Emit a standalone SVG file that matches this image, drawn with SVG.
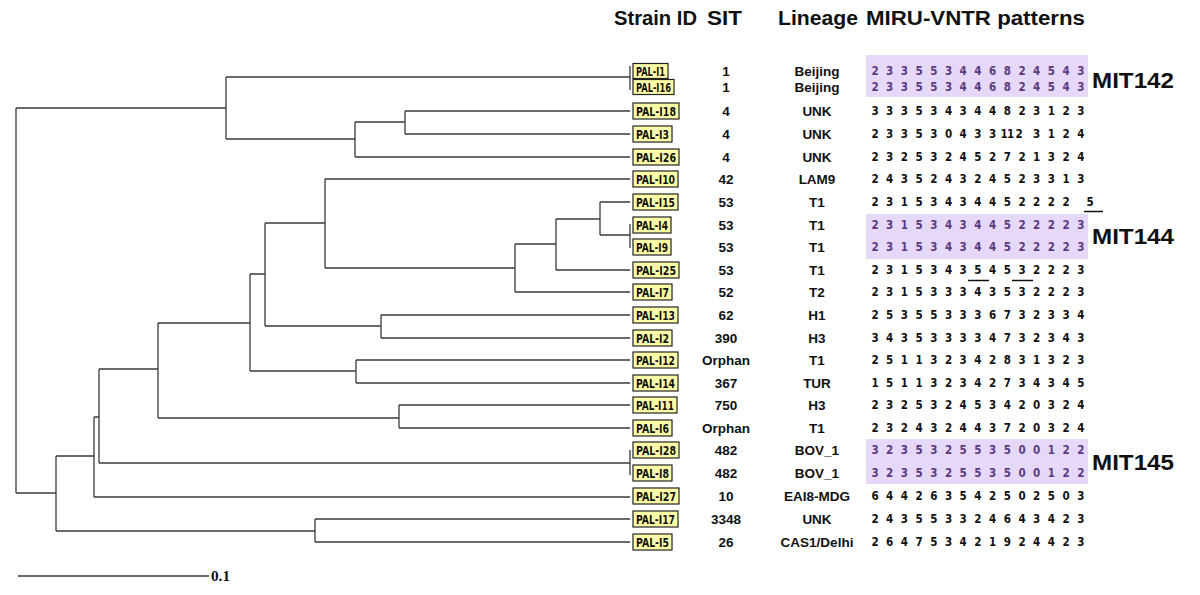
<svg xmlns="http://www.w3.org/2000/svg" width="1200" height="595" viewBox="0 0 1200 595">
<style>
.hdr{font-family:"Liberation Sans",Arial,sans-serif;font-weight:bold;font-size:20px;fill:#111}
.mit{font-family:"Liberation Sans",Arial,sans-serif;font-weight:bold;font-size:22px;fill:#111}
.box{fill:#ffffa8;stroke:#222;stroke-width:1.2}
.sid{font-family:"DejaVu Sans Condensed","DejaVu Sans",sans-serif;font-weight:bold;font-size:11.5px;fill:#111}
.col{font-family:"Liberation Sans",Arial,sans-serif;font-weight:bold;font-size:13.5px;fill:#111;text-anchor:middle}
.dg{font-family:"DejaVu Sans Condensed","DejaVu Sans",sans-serif;font-weight:bold;font-size:11.5px;fill:#111;text-anchor:middle}
.pu{fill:#5a3a80}
.hl{fill:#e6d8f8}
.tree{fill:none;stroke:#3a3a3a;stroke-width:1.3}
.ul{stroke:#111;stroke-width:1.5}
</style>
<rect width="1200" height="595" fill="#fff"/>
<g id="headers">
<text class="hdr" x="614" y="25" textLength="83" lengthAdjust="spacingAndGlyphs">Strain ID</text>
<text class="hdr" x="707" y="25" textLength="35" lengthAdjust="spacingAndGlyphs">SIT</text>
<text class="hdr" x="778" y="25" textLength="80" lengthAdjust="spacingAndGlyphs">Lineage</text>
<text class="hdr" x="866" y="25" textLength="219" lengthAdjust="spacingAndGlyphs">MIRU-VNTR patterns</text>
</g>
<g id="highlights">
<rect class="hl" x="866" y="55" width="222" height="42"/>
<rect class="hl" x="866" y="214" width="222" height="45"/>
<rect class="hl" x="866" y="439" width="222" height="45"/>
</g>
<g id="mit-labels">
<text class="mit" x="1092" y="88" textLength="82" lengthAdjust="spacingAndGlyphs">MIT142</text>
<text class="mit" x="1092" y="244" textLength="82" lengthAdjust="spacingAndGlyphs">MIT144</text>
<text class="mit" x="1092" y="470" textLength="82" lengthAdjust="spacingAndGlyphs">MIT145</text>
</g>
<g id="connectors">
<path class="tree" d="M16 108V493 M16 108H226 M226 77V139 M226 77H630 M630 66V90 M226 139H355 M355 122V157 M355 122H405 M405 111V134 M405 111H630 M405 134H630 M355 157H630 M16 493H56 M56 456V531 M56 531H315 M315 519V542 M315 519H630 M315 542H630 M56 456H94 M94 417V497 M94 497H630 M94 417H99 M99 369V463 M99 463H630 M630 450V475 M99 369H158 M158 323V418 M158 418H399 M399 405V428 M399 405H630 M399 428H630 M158 323H250 M250 274V371 M250 371H356 M356 360V383 M356 360H630 M356 383H630 M250 274H265 M265 223V326 M265 326H381 M381 315V338 M381 315H630 M381 338H630 M265 223H325 M325 179V268 M325 179H630 M325 268H515 M515 244V292 M515 292H630 M515 244H556 M556 219V270 M556 270H630 M556 219H600 M600 202V235 M600 202H630 M600 235H630 M630 224V248"/>
</g>
<g id="scale-bar">
<path class="tree" d="M18 576H209"/>
<text x="211" y="581" font-family="Liberation Serif,serif" font-size="14" font-weight="bold" fill="#111" textLength="19" lengthAdjust="spacingAndGlyphs">0.1</text>
</g>
<g id="PAL-I1"><rect class="box" x="633" y="63.5" width="35" height="15"/><text class="sid" x="636" y="75.5" textLength="29" lengthAdjust="spacingAndGlyphs">PAL-I1</text><text class="col" x="726" y="76">1</text><text class="col" x="817" y="76">Beijing</text><text class="dg pu" y="75" x="875 889.7 904.4 919.1 933.8 948.5 963.2 977.9 992.6 1007.3 1022 1036.7 1051.4 1066.1 1080.8">233553446824543</text></g>
<g id="PAL-I16"><rect class="box" x="633" y="79.5" width="41" height="15"/><text class="sid" x="636" y="91.5" textLength="35" lengthAdjust="spacingAndGlyphs">PAL-I16</text><text class="col" x="726" y="92">1</text><text class="col" x="817" y="92">Beijing</text><text class="dg pu" y="91" x="875 889.7 904.4 919.1 933.8 948.5 963.2 977.9 992.6 1007.3 1022 1036.7 1051.4 1066.1 1080.8">233553446824543</text></g>
<g id="PAL-I18"><rect class="box" x="633" y="103" width="46" height="16"/><text class="sid" x="636" y="115.5" textLength="40" lengthAdjust="spacingAndGlyphs">PAL-I18</text><text class="col" x="726" y="116">4</text><text class="col" x="817" y="116">UNK</text><text class="dg" y="115" x="875 889.7 904.4 919.1 933.8 948.5 963.2 977.9 992.6 1007.3 1022 1036.7 1051.4 1066.1 1080.8">333534344823123</text></g>
<g id="PAL-I3"><rect class="box" x="633" y="126" width="39" height="16"/><text class="sid" x="636" y="138.5" textLength="33" lengthAdjust="spacingAndGlyphs">PAL-I3</text><text class="col" x="726" y="139">4</text><text class="col" x="817" y="139">UNK</text><text class="dg" y="138" x="875 889.7 904.4 919.1 933.8 948.5 963.2 977.9 992.6 1004 1010.5 1019 1036.7 1051.4 1066.1 1080.8">2335304331123124</text></g>
<g id="PAL-I26"><rect class="box" x="633" y="149" width="46" height="16"/><text class="sid" x="636" y="161.5" textLength="40" lengthAdjust="spacingAndGlyphs">PAL-I26</text><text class="col" x="726" y="162">4</text><text class="col" x="817" y="162">UNK</text><text class="dg" y="161" x="875 889.7 904.4 919.1 933.8 948.5 963.2 977.9 992.6 1007.3 1022 1036.7 1051.4 1066.1 1080.8">232532452721324</text></g>
<g id="PAL-I10"><rect class="box" x="633" y="171" width="45" height="16"/><text class="sid" x="636" y="183.5" textLength="39" lengthAdjust="spacingAndGlyphs">PAL-I10</text><text class="col" x="726" y="184">42</text><text class="col" x="817" y="184">LAM9</text><text class="dg" y="183" x="875 889.7 904.4 919.1 933.8 948.5 963.2 977.9 992.6 1007.3 1022 1036.7 1051.4 1066.1 1080.8">243524324523313</text></g>
<g id="PAL-I15"><rect class="box" x="633" y="194" width="45" height="16"/><text class="sid" x="636" y="206.5" textLength="39" lengthAdjust="spacingAndGlyphs">PAL-I15</text><text class="col" x="726" y="207">53</text><text class="col" x="817" y="207">T1</text><text class="dg" y="206" x="875 889.7 904.4 919.1 933.8 948.5 963.2 977.9 992.6 1007.3 1022 1036.7 1051.4 1066.1 1090">231534344522225</text><line class="ul" x1="1084" y1="211.5" x2="1103" y2="211.5"/></g>
<g id="PAL-I4"><rect class="box" x="633" y="217" width="38" height="16"/><text class="sid" x="636" y="229.5" textLength="32" lengthAdjust="spacingAndGlyphs">PAL-I4</text><text class="col" x="726" y="230">53</text><text class="col" x="817" y="230">T1</text><text class="dg pu" y="229" x="875 889.7 904.4 919.1 933.8 948.5 963.2 977.9 992.6 1007.3 1022 1036.7 1051.4 1066.1 1080.8">231534344522223</text></g>
<g id="PAL-I9"><rect class="box" x="633" y="239" width="38" height="16"/><text class="sid" x="636" y="251.5" textLength="32" lengthAdjust="spacingAndGlyphs">PAL-I9</text><text class="col" x="726" y="252">53</text><text class="col" x="817" y="252">T1</text><text class="dg pu" y="251" x="875 889.7 904.4 919.1 933.8 948.5 963.2 977.9 992.6 1007.3 1022 1036.7 1051.4 1066.1 1080.8">231534344522223</text></g>
<g id="PAL-I25"><rect class="box" x="633" y="262" width="46" height="16"/><text class="sid" x="636" y="274.5" textLength="40" lengthAdjust="spacingAndGlyphs">PAL-I25</text><text class="col" x="726" y="275">53</text><text class="col" x="817" y="275">T1</text><text class="dg" y="274" x="875 889.7 904.4 919.1 933.8 948.5 963.2 977.9 992.6 1007.3 1022 1036.7 1051.4 1066.1 1080.8">231534354532223</text><line class="ul" x1="968" y1="280.5" x2="989" y2="280.5"/><line class="ul" x1="1012" y1="280.5" x2="1033" y2="280.5"/></g>
<g id="PAL-I7"><rect class="box" x="633" y="284" width="39" height="16"/><text class="sid" x="636" y="296.5" textLength="33" lengthAdjust="spacingAndGlyphs">PAL-I7</text><text class="col" x="726" y="297">52</text><text class="col" x="817" y="297">T2</text><text class="dg" y="296" x="875 889.7 904.4 919.1 933.8 948.5 963.2 977.9 992.6 1007.3 1022 1036.7 1051.4 1066.1 1080.8">231533343532223</text></g>
<g id="PAL-I13"><rect class="box" x="633" y="307" width="45" height="16"/><text class="sid" x="636" y="319.5" textLength="39" lengthAdjust="spacingAndGlyphs">PAL-I13</text><text class="col" x="726" y="320">62</text><text class="col" x="817" y="320">H1</text><text class="dg" y="319" x="875 889.7 904.4 919.1 933.8 948.5 963.2 977.9 992.6 1007.3 1022 1036.7 1051.4 1066.1 1080.8">253553336732334</text></g>
<g id="PAL-I2"><rect class="box" x="633" y="330" width="39" height="16"/><text class="sid" x="636" y="342.5" textLength="33" lengthAdjust="spacingAndGlyphs">PAL-I2</text><text class="col" x="726" y="343">390</text><text class="col" x="817" y="343">H3</text><text class="dg" y="342" x="875 889.7 904.4 919.1 933.8 948.5 963.2 977.9 992.6 1007.3 1022 1036.7 1051.4 1066.1 1080.8">343533334732343</text></g>
<g id="PAL-I12"><rect class="box" x="633" y="352" width="45" height="16"/><text class="sid" x="636" y="364.5" textLength="39" lengthAdjust="spacingAndGlyphs">PAL-I12</text><text class="col" x="726" y="365">Orphan</text><text class="col" x="817" y="365">T1</text><text class="dg" y="364" x="875 889.7 904.4 919.1 933.8 948.5 963.2 977.9 992.6 1007.3 1022 1036.7 1051.4 1066.1 1080.8">251132342831323</text></g>
<g id="PAL-I14"><rect class="box" x="633" y="375" width="45" height="16"/><text class="sid" x="636" y="387.5" textLength="39" lengthAdjust="spacingAndGlyphs">PAL-I14</text><text class="col" x="726" y="388">367</text><text class="col" x="817" y="388">TUR</text><text class="dg" y="387" x="875 889.7 904.4 919.1 933.8 948.5 963.2 977.9 992.6 1007.3 1022 1036.7 1051.4 1066.1 1080.8">151132342734345</text></g>
<g id="PAL-I11"><rect class="box" x="633" y="397" width="44" height="16"/><text class="sid" x="636" y="409.5" textLength="38" lengthAdjust="spacingAndGlyphs">PAL-I11</text><text class="col" x="726" y="410">750</text><text class="col" x="817" y="410">H3</text><text class="dg" y="409" x="875 889.7 904.4 919.1 933.8 948.5 963.2 977.9 992.6 1007.3 1022 1036.7 1051.4 1066.1 1080.8">232532453420324</text></g>
<g id="PAL-I6"><rect class="box" x="633" y="420" width="39" height="16"/><text class="sid" x="636" y="432.5" textLength="33" lengthAdjust="spacingAndGlyphs">PAL-I6</text><text class="col" x="726" y="433">Orphan</text><text class="col" x="817" y="433">T1</text><text class="dg" y="432" x="875 889.7 904.4 919.1 933.8 948.5 963.2 977.9 992.6 1007.3 1022 1036.7 1051.4 1066.1 1080.8">232432443720324</text></g>
<g id="PAL-I28"><rect class="box" x="633" y="442" width="46" height="16"/><text class="sid" x="636" y="454.5" textLength="40" lengthAdjust="spacingAndGlyphs">PAL-I28</text><text class="col" x="726" y="455">482</text><text class="col" x="817" y="455">BOV_1</text><text class="dg pu" y="454" x="875 889.7 904.4 919.1 933.8 948.5 963.2 977.9 992.6 1007.3 1022 1036.7 1051.4 1066.1 1080.8">323532553500122</text></g>
<g id="PAL-I8"><rect class="box" x="633" y="465" width="39" height="16"/><text class="sid" x="636" y="477.5" textLength="33" lengthAdjust="spacingAndGlyphs">PAL-I8</text><text class="col" x="726" y="478">482</text><text class="col" x="817" y="478">BOV_1</text><text class="dg pu" y="477" x="875 889.7 904.4 919.1 933.8 948.5 963.2 977.9 992.6 1007.3 1022 1036.7 1051.4 1066.1 1080.8">323532553500122</text></g>
<g id="PAL-I27"><rect class="box" x="633" y="488" width="46" height="16"/><text class="sid" x="636" y="500.5" textLength="40" lengthAdjust="spacingAndGlyphs">PAL-I27</text><text class="col" x="726" y="501">10</text><text class="col" x="817" y="501">EAI8-MDG</text><text class="dg" y="500" x="875 889.7 904.4 919.1 933.8 948.5 963.2 977.9 992.6 1007.3 1022 1036.7 1051.4 1066.1 1080.8">644263542502503</text></g>
<g id="PAL-I17"><rect class="box" x="633" y="511" width="45" height="16"/><text class="sid" x="636" y="523.5" textLength="39" lengthAdjust="spacingAndGlyphs">PAL-I17</text><text class="col" x="726" y="524">3348</text><text class="col" x="817" y="524">UNK</text><text class="dg" y="523" x="875 889.7 904.4 919.1 933.8 948.5 963.2 977.9 992.6 1007.3 1022 1036.7 1051.4 1066.1 1080.8">243553324643423</text></g>
<g id="PAL-I5"><rect class="box" x="633" y="534" width="39" height="16"/><text class="sid" x="636" y="546.5" textLength="33" lengthAdjust="spacingAndGlyphs">PAL-I5</text><text class="col" x="726" y="547">26</text><text class="col" x="817" y="547">CAS1/Delhi</text><text class="dg" y="546" x="875 889.7 904.4 919.1 933.8 948.5 963.2 977.9 992.6 1007.3 1022 1036.7 1051.4 1066.1 1080.8">264753421924423</text></g>
</svg>
